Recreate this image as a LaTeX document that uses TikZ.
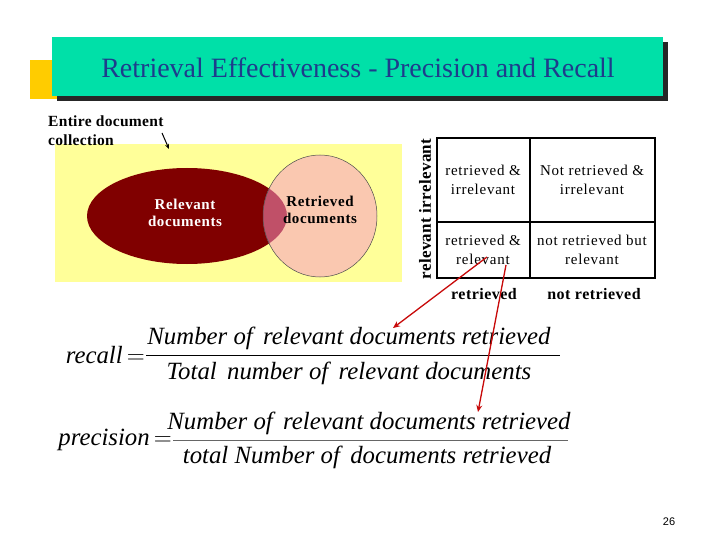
\documentclass[tikz,border=0pt]{standalone}
\usepackage{fontspec}
\setmainfont{Liberation Serif}
\setsansfont{Liberation Sans}
\usetikzlibrary{arrows.meta}
\definecolor{tyellow}{RGB}{255,204,0}
\definecolor{tgreen}{RGB}{0,224,168}
\definecolor{tblue}{RGB}{30,60,140}
\definecolor{lyellow}{RGB}{255,255,153}
\definecolor{dred}{RGB}{128,0,0}
\definecolor{peach}{RGB}{250,200,176}
\definecolor{overl}{RGB}{192,80,104}
\definecolor{arred}{RGB}{200,10,10}
\begin{document}
\begin{tikzpicture}[x=1pt,y=-1pt,
  celltxt/.style={font=\fontsize{15}{19}\selectfont\addfontfeature{LetterSpace=5}, align=center, text=black},
  boldlbl/.style={font=\fontsize{16}{17}\selectfont\bfseries\addfontfeature{LetterSpace=3}},
  venntxt/.style={font=\fontsize{15}{16.5}\selectfont\bfseries\addfontfeature{LetterSpace=4}, align=center},
  frm/.style={font=\fontsize{24.8}{26}\selectfont\itshape, inner sep=0pt},
  redarrow/.style={draw=arred, line width=1.3pt, -{Stealth[length=7pt,width=6pt]}}]
\useasboundingbox (0,0) rectangle (720,540);
\fill[white] (0,0) rectangle (720,540);
% title
\fill[tyellow] (30,60) rectangle (60,99);
\fill[black!85] (57,42) rectangle (668,101);
\fill[tgreen] (52,37) rectangle (663,96);
\node[font=\fontsize{28}{30}\selectfont, text=tblue] (title) at (358,68) {Retrieval Effectiveness - Precision and Recall};
% venn
\fill[lyellow] (55,144) rectangle (402,282);
\fill[dred] (187,216) ellipse [x radius=100, y radius=48];
\fill[peach] (320,216) ellipse [x radius=57, y radius=61];
\begin{scope}
  \clip (187,216) ellipse [x radius=100, y radius=48];
  \fill[overl] (320,216) ellipse [x radius=57, y radius=61];
\end{scope}
\draw[draw=black!70, line width=0.5pt] (320,216) ellipse [x radius=57, y radius=61];
\node[venntxt, text=white] (rel) at (185,213) {Relevant\\documents};
\node[venntxt, text=black] (ret) at (320,210) {Retrieved\\documents};
\node[align=left, anchor=north west, inner sep=0pt, font=\fontsize{15.5}{19}\selectfont\bfseries\addfontfeature{LetterSpace=2}] (entire) at (48,116) {Entire document\\collection};
\coordinate (ea) at (162,133);
\coordinate (eb) at (169,149);
\draw[line width=1pt, -{Stealth[length=5pt,width=4pt]}] (ea) -- (eb);
% table
\node[font=\fontsize{17}{18}\selectfont\bfseries\addfontfeature{LetterSpace=2}, rotate=90] (vlab) at (425,209) {relevant irrelevant};
\draw[line width=1.3pt] (437,138) rectangle (655,278);
\draw[line width=1.3pt] (530,138) -- (530,278);
\draw[line width=1.3pt] (437,222) -- (655,222);
\node[celltxt] (c11) at (483,180) {retrieved \&\\irrelevant};
\node[celltxt] (c12) at (592,180) {Not retrieved \&\\irrelevant};
\node[celltxt] (c21) at (483,250) {retrieved \&\\relevant};
\node[celltxt] (c22) at (592,250) {not retrieved but\\relevant};
\node[boldlbl] (lret) at (484,294) {retrieved};
\node[boldlbl] (lnret) at (594,294) {not retrieved};
% formulas
\node[frm, anchor=east] (recall) at (145,355) {recall\,$=$};
\draw[line width=0.8pt] (146,355) -- (560,355);
\node[frm] (rnum) at (349,338) {Number of\, relevant documents retrieved};
\node[frm] (rden) at (349,373) {Total\, number of\, relevant documents};
\node[frm, anchor=east] (precision) at (172,440) {precision\,$=$};
\draw[line width=0.6pt, draw=black!60] (173,440) -- (568,440);
\node[frm] (pnum) at (369,423) {Number of\, relevant documents retrieved};
\node[frm] (pden) at (367,457) {total Number of\, documents retrieved};
% red arrows
\coordinate (a1s) at (487,257);
\coordinate (a1e) at (393,328);
\coordinate (a2s) at (506,265);
\coordinate (a2e) at (478,412);
\draw[redarrow] (a1s) -- (a1e);
\draw[redarrow] (a2s) -- (a2e);
\node[font=\sffamily\fontsize{11}{12}\selectfont] (pg) at (669,522) {26};
\end{tikzpicture}
\end{document}
